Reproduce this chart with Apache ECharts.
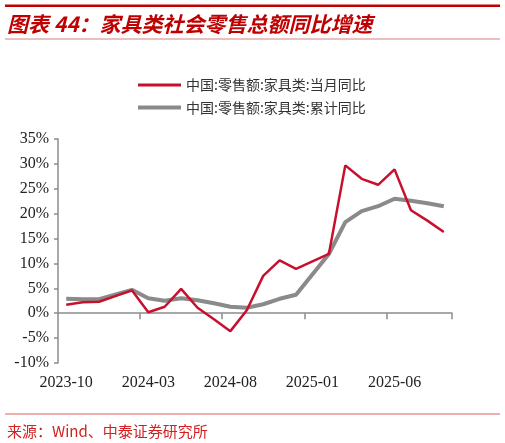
<!DOCTYPE html>
<html>
<head>
<meta charset="utf-8">
<script src="https://cdn.jsdelivr.net/npm/echarts@6/dist/echarts.min.js"></script>
<style>
html,body{margin:0;padding:0;background:#fff;}
#chart{width:505px;height:443px;}
</style>
</head>
<body>
<div id="chart"></div>
<script>
var categories = ['2023-10','2023-11','2023-12','2024-01','2024-02','2024-03','2024-04','2024-05','2024-06','2024-07','2024-08','2024-09','2024-10','2024-11','2024-12','2025-01','2025-02','2025-03','2025-04','2025-05','2025-06','2025-07','2025-08','2025-09'];
var monthlyYoY = [1.7, 2.2, 2.3, null, 4.6, 0.2, 1.3, 4.9, 1.1, -1.2, -3.6, 0.6, 7.5, 10.6, 8.9, null, 11.9, 29.7, 27.0, 25.8, 28.9, 20.7, 18.6, 16.3];
var cumulativeYoY = [2.9, 2.8, 2.8, null, 4.7, 3.0, 2.5, 3.0, 2.6, 2.0, 1.3, 1.1, 1.8, 2.9, 3.7, null, 11.9, 18.3, 20.5, 21.5, 23.0, 22.6, 22.1, 21.5];
var seriesNames = ['中国:零售额:家具类:当月同比', '中国:零售额:家具类:累计同比'];
var yTicks = {min: -10, max: 35, interval: 5};

var chart = echarts.init(document.getElementById('chart'));
var axisColor = '#8c8c8c';
var labelFont = {fontFamily: 'Liberation Serif', fontSize: 16, color: '#222'};
// legend line icons: a thin bar inside a 43x14 box (tiny corner marks fix the box size)
function lineIcon(y0, y1) {
  return 'path://M0,0 L0.01,0 L0.01,0.01 Z M43,14 L42.99,14 L42.99,13.99 Z M0,' + y0 + ' L43,' + y0 + ' L43,' + y1 + ' L0,' + y1 + ' Z';
}
chart.setOption({
  animation: false,
  backgroundColor: '#fff',
  graphic: [
    {type: 'rect', shape: {x: 5, y: 4.5, width: 495, height: 2.5}, style: {fill: '#C00000'}},
    {type: 'text', x: 7, y: 24, style: {text: '图表 44：家具类社会零售总额同比增速', fill: '#C00000', font: 'italic bold 21px "Noto Sans CJK SC"', textVerticalAlign: 'middle'}},
    {type: 'rect', shape: {x: 5, y: 38.5, width: 495, height: 1}, style: {fill: '#D98080'}},
    {type: 'rect', shape: {x: 5, y: 413.5, width: 495, height: 1}, style: {fill: '#E06060'}},
    {type: 'text', x: 7, y: 431, style: {text: '来源：Wind、中泰证券研究所', fill: '#D42020', font: '15px "Noto Sans CJK SC"', textVerticalAlign: 'middle'}}
  ],
  legend: {
    orient: 'vertical',
    left: 133,
    top: 73,
    itemWidth: 43,
    itemHeight: 14,
    itemGap: 8.5,
    textStyle: {fontFamily: 'Noto Sans CJK SC', fontSize: 14, color: '#333'},
    data: [
      {name: seriesNames[0], icon: lineIcon(5.5, 8.5)},
      {name: seriesNames[1], icon: lineIcon(5, 9)}
    ]
  },
  grid: {left: 58, right: 53, top: 139, bottom: 80, containLabel: false},
  xAxis: [
    {
      type: 'category',
      data: categories,
      boundaryGap: true,
      axisLine: {onZero: true, lineStyle: {color: axisColor, width: 1.5}},
      axisTick: {show: true, interval: function (i) { return i > 0 && i % 5 === 0; }, length: 6, inside: false, lineStyle: {color: axisColor, width: 1.5}},
      axisLabel: {show: false},
      splitLine: {show: false}
    },
    {
      type: 'category',
      data: categories,
      position: 'bottom',
      boundaryGap: true,
      axisLine: {show: false, onZero: false},
      axisTick: {show: false},
      axisLabel: Object.assign({interval: 4, margin: 12}, labelFont),
      splitLine: {show: false}
    }
  ],
  yAxis: {
    type: 'value',
    min: yTicks.min,
    max: yTicks.max,
    interval: yTicks.interval,
    axisLine: {show: true, lineStyle: {color: axisColor, width: 1.5}},
    axisTick: {show: true, length: 4, lineStyle: {color: axisColor, width: 1.5}},
    axisLabel: Object.assign({formatter: '{value}%', margin: 9}, labelFont),
    splitLine: {show: false}
  },
  series: [
    {
      name: seriesNames[0],
      type: 'line',
      xAxisIndex: 0,
      data: monthlyYoY,
      connectNulls: true,
      symbol: 'none',
      lineStyle: {color: '#C8102E', width: 2.5},
      itemStyle: {color: '#C8102E'},
      z: 3
    },
    {
      name: seriesNames[1],
      type: 'line',
      xAxisIndex: 0,
      data: cumulativeYoY,
      connectNulls: true,
      symbol: 'none',
      lineStyle: {color: '#8A8A8A', width: 4},
      itemStyle: {color: '#8A8A8A'},
      z: 2
    }
  ]
});
</script>
</body>
</html>
